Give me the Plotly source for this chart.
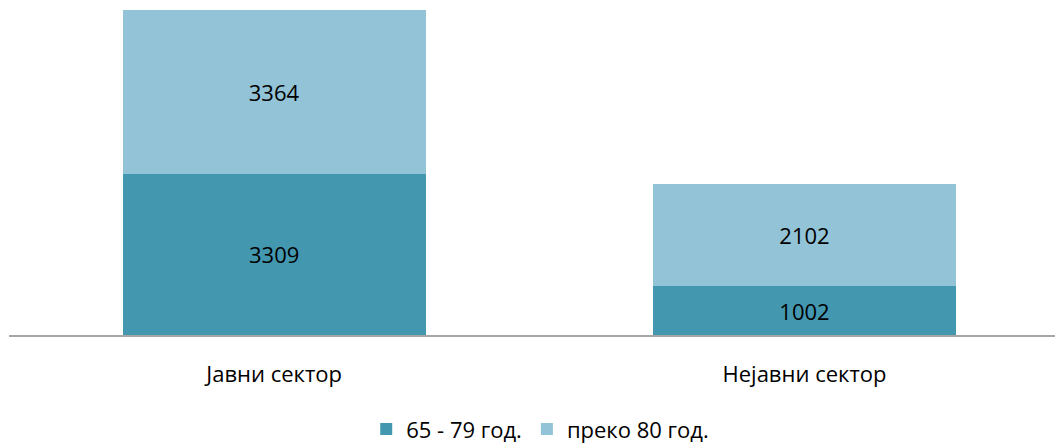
import plotly.graph_objects as go

# data
categories = ["Јавни сектор", "Нејавни сектор"]
age_65_79 = [3309, 1002]
over_80 = [3364, 2102]
series_names = ["65 - 79 год.", "преко 80 год."]

COLOR_DARK = "#4398B0"
COLOR_LIGHT = "#93C3D6"
FONT = "Open Sans, sans-serif"

fig = go.Figure()
for name, vals, col in [(series_names[0], age_65_79, COLOR_DARK),
                        (series_names[1], over_80, COLOR_LIGHT)]:
    fig.add_trace(go.Bar(
        x=categories, y=vals, name=name,
        marker=dict(color=col, line=dict(width=0)),
        text=[str(v) for v in vals], textposition="inside",
        insidetextanchor="middle", textangle=0,
        textfont=dict(family=FONT, size=22, color="#000000"),
        width=0.571,
    ))

total_max = max(a + b for a, b in zip(age_65_79, over_80))

# page body has an 8px margin, so margins are shifted by 8px
fig.update_layout(
    barmode="stack",
    width=1055, height=444,
    margin=dict(l=1, r=0, t=2, b=117),
    plot_bgcolor="white", paper_bgcolor="white",
    font=dict(family=FONT, size=22, color="#000000"),
    showlegend=True,
    legend=dict(orientation="h", x=0.504, xanchor="center", y=-0.29, yanchor="middle",
                font=dict(family=FONT, size=22), traceorder="normal",
                itemwidth=30),
    xaxis=dict(range=[-0.5, 1.4875], showline=True, linecolor="#A6A6A6", linewidth=2,
               ticks="", showgrid=False, ticklabelstandoff=19,
               tickfont=dict(family=FONT, size=22)),
    yaxis=dict(range=[0, total_max], visible=False, showgrid=False),
)

fig.write_html("out.html")
